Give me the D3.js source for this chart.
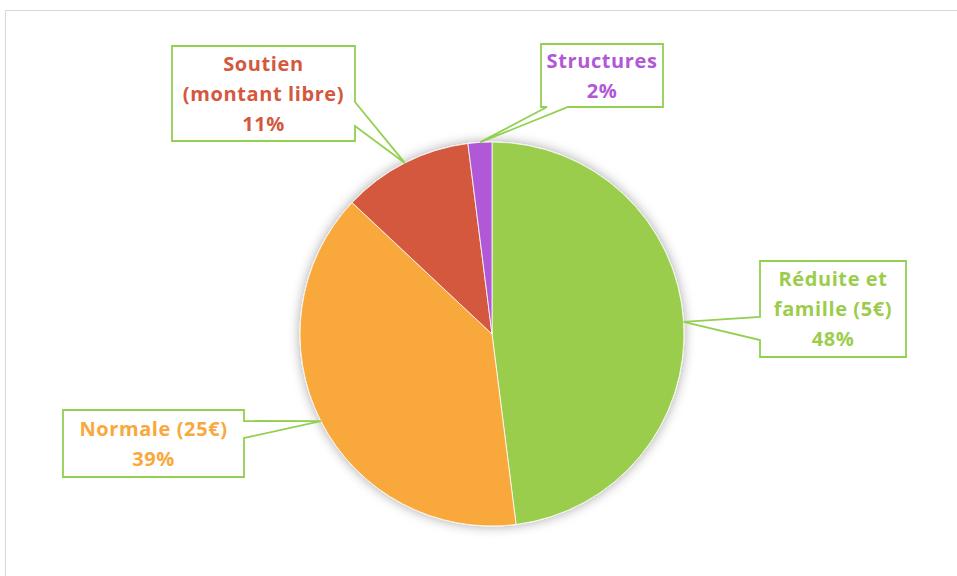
<!DOCTYPE html>
<html>
<head>
<meta charset="utf-8">
<title>Répartition des adhésions</title>
<script src="https://d3js.org/d3.v7.min.js"></script>
<style>
  body { margin: 0; background: #fff; }
  text { font-family: "Open Sans", "Lato", sans-serif; font-weight: 700; }
</style>
</head>
<body>
<script>
// data
const categories = ["Réduite et famille (5€)", "Normale (25€)", "Soutien (montant libre)", "Structures"]
const values = [48, 39, 11, 2]
const labelLines = [["Réduite et", "famille (5€)"], ["Normale (25€)"], ["Soutien", "(montant libre)"], ["Structures"]]
const colors = ["#9bcd4d", "#f9a83b", "#d4583e", "#b058d6"]

// callout boxes (layout only)
const boxes = [
  {x0: 760, y0: 261, x1: 906, y1: 357, side: "left", a: 317, b: 340},
  {x0: 63, y0: 410, x1: 244, y1: 477, side: "right", a: 421, b: 438},
  {x0: 172, y0: 46, x1: 355, y1: 141, side: "right", a: 102, b: 126},
  {x0: 541, y0: 44, x1: 663, y1: 107, side: "bottom", a: 547, b: 568}
]

const width = 957, height = 576
const cx = 492, cy = 334, radius = 192
const boxColor = "#92d050"

const svg = d3.select("body").append("svg")
  .attr("width", width)
  .attr("height", height)

const defs = svg.append("defs")
const f = defs.append("filter").attr("id", "shadow")
  .attr("x", "-20%").attr("y", "-20%").attr("width", "140%").attr("height", "140%")
f.append("feDropShadow")
  .attr("dx", 0).attr("dy", 0)
  .attr("stdDeviation", 6)
  .attr("flood-color", "#000")
  .attr("flood-opacity", 0.35)

// outer frame
svg.append("rect")
  .attr("x", 5.5).attr("y", 10.5)
  .attr("width", width + 20).attr("height", height + 20)
  .attr("fill", "none")
  .attr("stroke", "#d9d9d9")
  .attr("stroke-width", 1)

const pie = d3.pie().sort(null).value(d => d)
const arcs = pie(values)
const arc = d3.arc().innerRadius(0).outerRadius(radius)

const g = svg.append("g").attr("transform", `translate(${cx},${cy})`)

g.append("g")
  .attr("filter", "url(#shadow)")
  .selectAll("path")
  .data(arcs)
  .join("path")
  .attr("d", arc)
  .attr("fill", (d, i) => colors[i])
  .attr("stroke", "#fff")
  .attr("stroke-width", 0.8)

// pointer tip on the pie edge at the middle angle
function tip(d) {
  const a = (d.startAngle + d.endAngle) / 2
  return [cx + radius * Math.sin(a), cy - radius * Math.cos(a)]
}

function calloutPath(b, t) {
  const p = d3.path()
  p.moveTo(b.x0, b.y0)
  p.lineTo(b.x1, b.y0)
  if (b.side == "right") {
    p.lineTo(b.x1, b.a)
    p.lineTo(t[0], t[1])
    p.lineTo(b.x1, b.b)
  }
  p.lineTo(b.x1, b.y1)
  if (b.side == "bottom") {
    p.lineTo(b.b, b.y1)
    p.lineTo(t[0], t[1])
    p.lineTo(b.a, b.y1)
  }
  p.lineTo(b.x0, b.y1)
  if (b.side == "left") {
    p.lineTo(b.x0, b.b)
    p.lineTo(t[0], t[1])
    p.lineTo(b.x0, b.a)
  }
  p.closePath()
  return p.toString()
}

const labels = svg.append("g")

arcs.forEach((d, i) => {
  const b = boxes[i]
  labels.append("path")
    .attr("d", calloutPath(b, tip(d)))
    .attr("fill", "#fff")
    .attr("stroke", boxColor)
    .attr("stroke-width", 1.8)
    .attr("stroke-linejoin", "miter")

  const lines = labelLines[i].concat([d3.format(".0f")(d.data) + "%"])
  const lh = 30
  const mid = (b.y0 + b.y1) / 2
  const first = mid - (lines.length - 1) * lh / 2
  labels.append("text")
    .attr("text-anchor", "middle")
    .attr("fill", colors[i])
    .style("font-size", "20px")
    .style("letter-spacing", "0.6px")
    .selectAll("tspan")
    .data(lines)
    .join("tspan")
    .attr("x", (b.x0 + b.x1) / 2)
    .attr("y", (l, j) => first + j * lh)
    .attr("dy", "0.36em")
    .text(l => l)
})
</script>
</body>
</html>
